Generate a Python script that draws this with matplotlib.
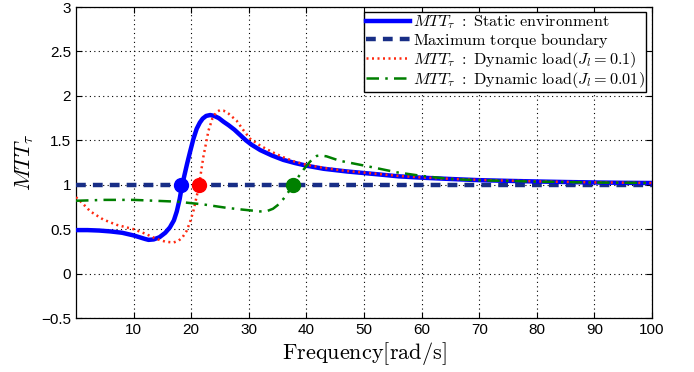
import matplotlib
matplotlib.use("Agg")
import matplotlib.pyplot as plt

plt.rcParams['mathtext.fontset'] = 'cm'
plt.rcParams['font.family'] = ['Liberation Sans', 'DejaVu Sans']

# frequency [rad/s] and MTT values
f_static = [0, 2, 4, 6, 8, 10, 11, 12, 12.6, 13.5, 14.5, 15.5, 16.3, 17, 17.5, 18, 18.35,
            18.8, 19.3, 19.8, 20.4, 20.95, 21.5, 22, 22.6, 23.3, 24, 24.8, 25.6, 26.5, 27.5,
            28.5, 29.5, 30.5, 32, 34, 36, 38, 40, 43, 47, 52, 56, 60, 65, 70, 75, 80, 85,
            90, 95, 100]
v_static = [0.49, 0.49, 0.485, 0.475, 0.46, 0.43, 0.41, 0.39, 0.38, 0.385, 0.41, 0.46, 0.52,
            0.6, 0.7, 0.84, 0.97, 1.1, 1.24, 1.37, 1.52, 1.63, 1.7, 1.745, 1.775, 1.785, 1.775,
            1.75, 1.71, 1.67, 1.62, 1.56, 1.5, 1.45, 1.39, 1.33, 1.28, 1.245, 1.215, 1.18, 1.15,
            1.12, 1.095, 1.08, 1.065, 1.052, 1.044, 1.037, 1.031, 1.026, 1.022, 1.02]

f_dyn1 = [0, 1, 2.5, 4.7, 7, 10, 12, 14, 15.5, 16.9, 17.8, 18.5, 19.2, 19.8, 20.4, 21.3,
          22.1, 23, 23.7, 24.4, 25, 25.6, 26.5, 27.9, 29, 30.2, 32, 34, 36, 38, 40, 43, 47,
          52, 56, 60, 65, 70, 80, 90, 100]
v_dyn1 = [0.86, 0.8, 0.7, 0.61, 0.55, 0.5, 0.45, 0.39, 0.36, 0.35, 0.37, 0.41, 0.48, 0.58, 0.71,
          0.97, 1.31, 1.61, 1.75, 1.82, 1.84, 1.835, 1.8, 1.72, 1.62, 1.52, 1.44, 1.37, 1.31,
          1.26, 1.225, 1.19, 1.155, 1.125, 1.1, 1.083, 1.067, 1.055, 1.038, 1.027, 1.02]

f_dyn2 = [0, 5, 10, 17.5, 22, 26.2, 29, 32, 33.2, 34.2, 35, 36, 37, 37.7, 38.5, 39.5, 40.5,
          41.2, 41.8, 42.5, 43.5, 45.8, 50.5, 55.7, 60, 65, 70, 73.6, 80, 90, 100]
v_dyn2 = [0.82, 0.83, 0.83, 0.81, 0.78, 0.74, 0.72, 0.70, 0.705, 0.73, 0.77, 0.84, 0.93, 1.0,
          1.08, 1.17, 1.25, 1.3, 1.325, 1.33, 1.32, 1.27, 1.21, 1.14, 1.1, 1.065, 1.05, 1.045,
          1.035, 1.025, 1.02]

f_cross = [18.3, 21.3, 37.7]
boundary = 1.0

fig = plt.figure(figsize=(6.94, 3.72), dpi=100)
ax = fig.add_axes([0.1095, 0.145, 0.83, 0.836])

ax.plot(f_static, v_static, color='#0000ff', lw=3.2, zorder=4,
        label=r'$MTT_\tau\ \mathrm{:\ Static\ environment}$')
ax.plot([0, 100], [boundary, boundary], color='#182e86', lw=3.2, ls=(0, (2.2, 1.6)), zorder=3,
        label=r'$\mathrm{Maximum\ torque\ boundary}$')
ax.plot(f_dyn1, v_dyn1, color='#ff2a10', lw=1.8, ls=(0, (0.8, 1.4)), zorder=5,
        label=r'$MTT_\tau\ \mathrm{:\ Dynamic\ load(}J_l\mathrm{=0.1)}$')
ax.plot(f_dyn2, v_dyn2, color='#007f00', lw=1.8, ls=(0, (5, 2.5, 1, 2.5)), zorder=5,
        label=r'$MTT_\tau\ \mathrm{:\ Dynamic\ load(}J_l\mathrm{=0.01)}$')

for fc, c in zip(f_cross, ['#0000ff', '#ff0000', '#008000']):
    ax.plot(fc, boundary, 'o', color=c, ms=10, zorder=6)

ax.set_xlim(0, 100)
ax.set_ylim(-0.5, 3)
ax.set_xticks(range(10, 101, 10))
ax.set_yticks([-0.5, 0, 0.5, 1, 1.5, 2, 2.5, 3])
ax.set_yticklabels(['\u22120.5', '0', '0.5', '1', '1.5', '2', '2.5', '3'])
ax.tick_params(direction='in', top=True, right=True, labelsize=11, length=4)
ax.grid(True, color='k', ls=(0, (1, 3)), lw=0.8)
for s in ax.spines.values():
    s.set_linewidth(0.9)

ax.set_xlabel(r'$\mathrm{Frequency[rad/s]}$', fontsize=16, labelpad=2)
ax.set_ylabel(r'$MTT_\tau$', fontsize=16, labelpad=4)

leg = ax.legend(loc='upper right', bbox_to_anchor=(0.99, 0.985), fontsize=11.7,
                handlelength=2.7, handletextpad=0.2, labelspacing=0.0,
                borderpad=0.1, borderaxespad=0, fancybox=False, framealpha=1)
leg.get_frame().set_edgecolor('k')
leg.get_frame().set_linewidth(1)

fig.savefig('out.png', dpi=100)
